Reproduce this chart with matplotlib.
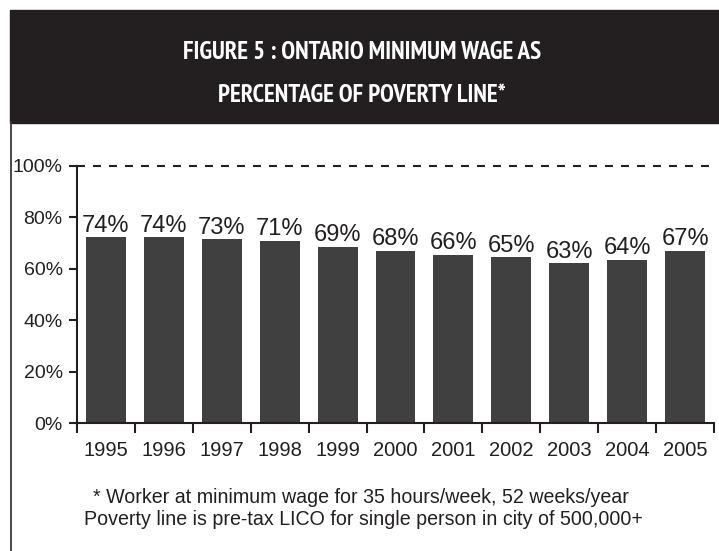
import matplotlib
matplotlib.use("Agg")
import matplotlib.pyplot as plt
from matplotlib.patches import Rectangle
from matplotlib.lines import Line2D
from matplotlib import font_manager

# data
years = ["1995", "1996", "1997", "1998", "1999", "2000",
         "2001", "2002", "2003", "2004", "2005"]
bar_values = [72.3, 72.3, 71.6, 70.9, 68.5, 67.0, 65.4, 64.6, 62.2, 63.5, 67.0]
bar_labels = [74, 74, 73, 71, 69, 68, 66, 65, 63, 64, 67]
y_ticks = [0, 20, 40, 60, 80, 100]

title_lines = ["FIGURE 5 : ONTARIO MINIMUM WAGE AS", "PERCENTAGE OF POVERTY LINE*"]
notes = ["* Worker at minimum wage for 35 hours/week, 52 weeks/year",
         "Poverty line is pre-tax LICO for single person in city of 500,000+"]

dark = "#231f20"
bar_col = "#404040"

plt.rcParams["font.family"] = ["Liberation Sans", "DejaVu Sans"]


def cond_score(f):
    # narrower faces first; only bold weight
    if f.weight not in (700, "bold"):
        return None
    tag = (f.name + " " + str(f.stretch) + " " + f.fname).lower().replace("-", "").replace(" ", "")
    if "italic" in tag or "oblique" in tag:
        return None
    if "narrow" in tag:
        return 0
    if "extracondensed" in tag or "ultracondensed" in tag:
        return 1
    if "semicondensed" in tag:
        return 3
    if "condensed" in tag:
        return 2
    return None


cands = [(cond_score(f), f.fname) for f in font_manager.fontManager.ttflist]
cands = sorted(c for c in cands if c[0] is not None)
cond = cands[0][1] if cands else None

W, H = 719, 551
fig = plt.figure(figsize=(W / 100, H / 100), dpi=100)

# header band and left frame line
fig.patches.append(Rectangle((10 / W, 1 - 122.7 / H), 1, 112.7 / H,
                             transform=fig.transFigure, color=dark, zorder=0))
fig.lines.append(Line2D([11 / W, 11 / W], [0, 1 - 122 / H], transform=fig.transFigure,
                        color="#3a3a3a", lw=1.3))

if cond:
    tprops = font_manager.FontProperties(fname=cond, size=18)
else:
    tprops = font_manager.FontProperties(family="Liberation Sans", weight="bold", size=13)
t1 = fig.text(362 / W, 1 - 59 / H, title_lines[0], color="white", fontproperties=tprops,
              ha="center", va="baseline")
t2 = fig.text(362 / W, 1 - 101.7 / H, title_lines[1], color="white", fontproperties=tprops,
              ha="center", va="baseline")
# fit header width to the original (~358 px for the first line)
r = fig.canvas.get_renderer()
w = t1.get_window_extent(r).width
size = min(18, 18 * 358 / w)
t1.set_fontsize(size)
t2.set_fontsize(size)

ax = fig.add_axes([76.7 / W, 1 - 423.3 / H, (714.3 - 76.7) / W, (423.3 - 166) / H])
x = list(range(len(years)))
ax.bar(x, bar_values, width=0.69, color=bar_col, zorder=2)
for xi, v, lab in zip(x, bar_values, bar_labels):
    ax.annotate(f"{lab}%", (xi, v), xytext=(0, 4), textcoords="offset points",
                ha="center", va="baseline", fontsize=17, color=dark)

ax.axhline(100, color=dark, lw=1.5, linestyle=(0, (3.84, 3.84)), clip_on=False)

ax.set_xlim(-0.5, len(years) - 0.5)
ax.set_ylim(0, 100)
for s in ["top", "right"]:
    ax.spines[s].set_visible(False)
for s in ["left", "bottom"]:
    ax.spines[s].set_linewidth(1.5)
    ax.spines[s].set_color(dark)

ax.set_yticks(y_ticks)
ax.set_yticklabels([f"{t}%" for t in y_ticks])
ax.tick_params(axis="y", length=5.8, width=1.5, pad=4.3, labelsize=14,
               color=dark, labelcolor=dark)

ax.set_xticks(x)
ax.set_xticklabels(years)
ax.set_xticks([i - 0.5 for i in range(len(years) + 1)], minor=True)
ax.tick_params(axis="x", which="major", length=0, pad=12.5, labelsize=14.5, labelcolor=dark)
ax.tick_params(axis="x", which="minor", length=7.2, width=1.5, color=dark)

fig.text(361 / W, 1 - 503 / H, notes[0], fontsize=14.1, color=dark,
         ha="center", va="baseline")
fig.text(363 / W, 1 - 525 / H, notes[1], fontsize=14.1, color=dark,
         ha="center", va="baseline")

fig.savefig("out.png", dpi=100)
